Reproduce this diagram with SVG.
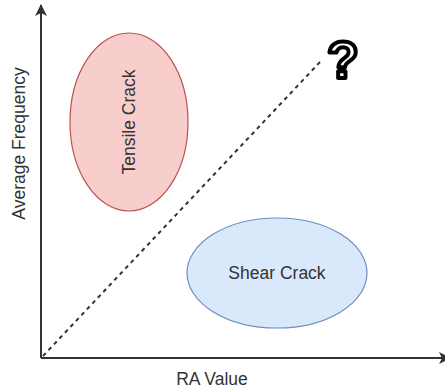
<svg xmlns="http://www.w3.org/2000/svg" width="445" height="389" viewBox="0 0 445 389">
  <defs>
    <marker id="arrow" viewBox="0 0 12 12" refX="11" refY="6" markerWidth="12" markerHeight="12" markerUnits="userSpaceOnUse" orient="auto">
      <path d="M0,0 L12,6 L0,12 L3,6 Z" fill="#333333"/>
    </marker>
  </defs>
  <style>
    .axis { stroke: #333333; stroke-width: 2; fill: none; }
    .dash { stroke: #333333; stroke-width: 2; fill: none; stroke-dasharray: 4 4; }
    .label { font-family: "Liberation Sans", Arial, sans-serif; font-size: 17.5px; fill: #333333; text-anchor: middle; }
    .tensile { fill: #f8cecc; stroke: #b85450; stroke-width: 1.2; }
    .shear { fill: #dae8fc; stroke: #6c8ebf; stroke-width: 1.2; }
  </style>
  <rect width="445" height="389" fill="#ffffff"/>

  <!-- axes and trend line -->
  <g id="connectors">
    <line class="axis" x1="41" y1="358" x2="41" y2="5" marker-end="url(#arrow)"/>
    <line class="axis" x1="41" y1="358" x2="450" y2="358" marker-end="url(#arrow)"/>
    <line class="dash" x1="43" y1="356" x2="320" y2="62"/>
  </g>

  <g id="y-axis-label">
    <text class="label" transform="translate(25,143.5) rotate(-90)">Average Frequency</text>
  </g>
  <g id="x-axis-label">
    <text class="label" x="212" y="385">RA Value</text>
  </g>

  <g id="tensile-crack">
    <ellipse class="tensile" cx="129" cy="122" rx="59" ry="89"/>
    <text class="label" transform="translate(135,122) rotate(-90)">Tensile Crack</text>
  </g>

  <g id="shear-crack">
    <ellipse class="shear" cx="277" cy="273" rx="90" ry="55"/>
    <text class="label" x="277" y="279">Shear Crack</text>
  </g>

  <g id="unknown">
    <text x="343" y="78" font-family="Liberation Sans, Arial, sans-serif" font-weight="bold" font-size="52px" text-anchor="middle" fill="#ffffff" stroke="#000000" stroke-width="4" stroke-linejoin="round">?</text>
  </g>
</svg>
